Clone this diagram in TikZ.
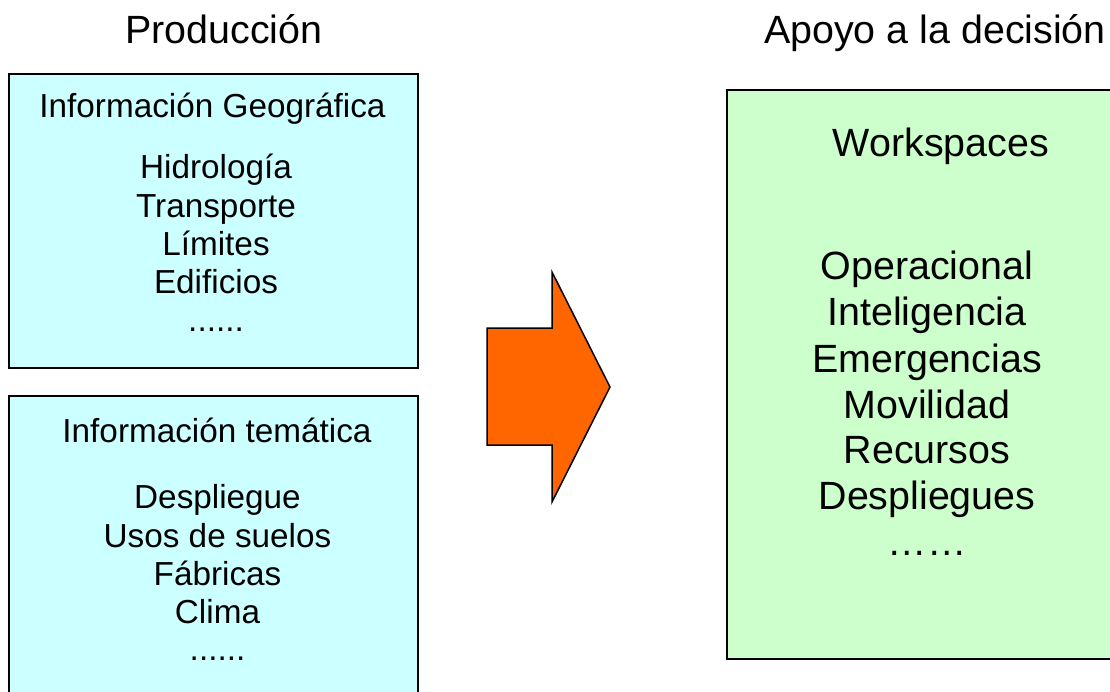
\documentclass[tikz,border=0pt]{standalone}
\usepackage{fontspec}
\setmainfont{Liberation Sans}
\definecolor{cyanbox}{HTML}{CCFFFF}
\definecolor{greenbox}{HTML}{CCFFCC}
\definecolor{orangearrow}{HTML}{FF6600}
\begin{document}
\begin{tikzpicture}[x=1pt,y=-1pt,
  titletext/.style={font=\fontsize{39.4}{46}\selectfont, anchor=base, inner sep=0pt},
  smalltext/.style={font=\fontsize{33.3}{38.5}\selectfont, anchor=base, inner sep=0pt},
  bigtext/.style={font=\fontsize{39.4}{46}\selectfont, anchor=base, inner sep=0pt},
  panel/.style={draw=black, line width=1.5pt}]
\useasboundingbox (0,0) rectangle (1110,691);
\clip (0,0) rectangle (1110,691);
% titles
\node[titletext] (tprod) at (224,43) {Producción};
\node[titletext] (tapoyo) at (935,43) {Apoyo a la decisión};
% panels
\filldraw[panel, fill=cyanbox] (9,74) rectangle (418,368);
\filldraw[panel, fill=cyanbox] (9,396) rectangle (418,740);
\filldraw[panel, fill=greenbox] (727,90) rectangle (1150,659);
% arrow
\filldraw[draw=black, line width=1.5pt, fill=orangearrow, line join=miter]
  (487,328) -- (552,328) -- (552,272) -- (610,387) -- (552,502) -- (552,445) -- (487,445) -- cycle;
% box 1 texts
\node[smalltext] (g0) at (212.5,117) {Información Geográfica};
\node[smalltext] (g1) at (216,178) {Hidrología};
\node[smalltext] (g2) at (216,217) {Transporte};
\node[smalltext] (g3) at (216,255) {Límites};
\node[smalltext] (g4) at (216,293) {Edificios};
\node[smalltext] (g5) at (216,331) {......};
% box 2 texts
\node[smalltext] (t0) at (217,442) {Información temática};
\node[smalltext] (t1) at (217.5,508) {Despliegue};
\node[smalltext] (t2) at (217.5,547) {Usos de suelos};
\node[smalltext] (t3) at (217.5,585) {Fábricas};
\node[smalltext] (t4) at (217.5,623) {Clima};
\node[smalltext] (t5) at (217.5,660) {......};
% green texts
\node[bigtext] (w0) at (941,156) {Workspaces};
\node[bigtext] (w1) at (927,279) {Operacional};
\node[bigtext] (w2) at (927,325) {Inteligencia};
\node[bigtext] (w3) at (927,372) {Emergencias};
\node[bigtext] (w4) at (927,418) {Movilidad};
\node[bigtext] (w5) at (927,463) {Recursos};
\node[bigtext] (w6) at (927,509) {Despliegues};
\node[bigtext] (w7) at (927,555) {……};
\end{tikzpicture}
\end{document}
